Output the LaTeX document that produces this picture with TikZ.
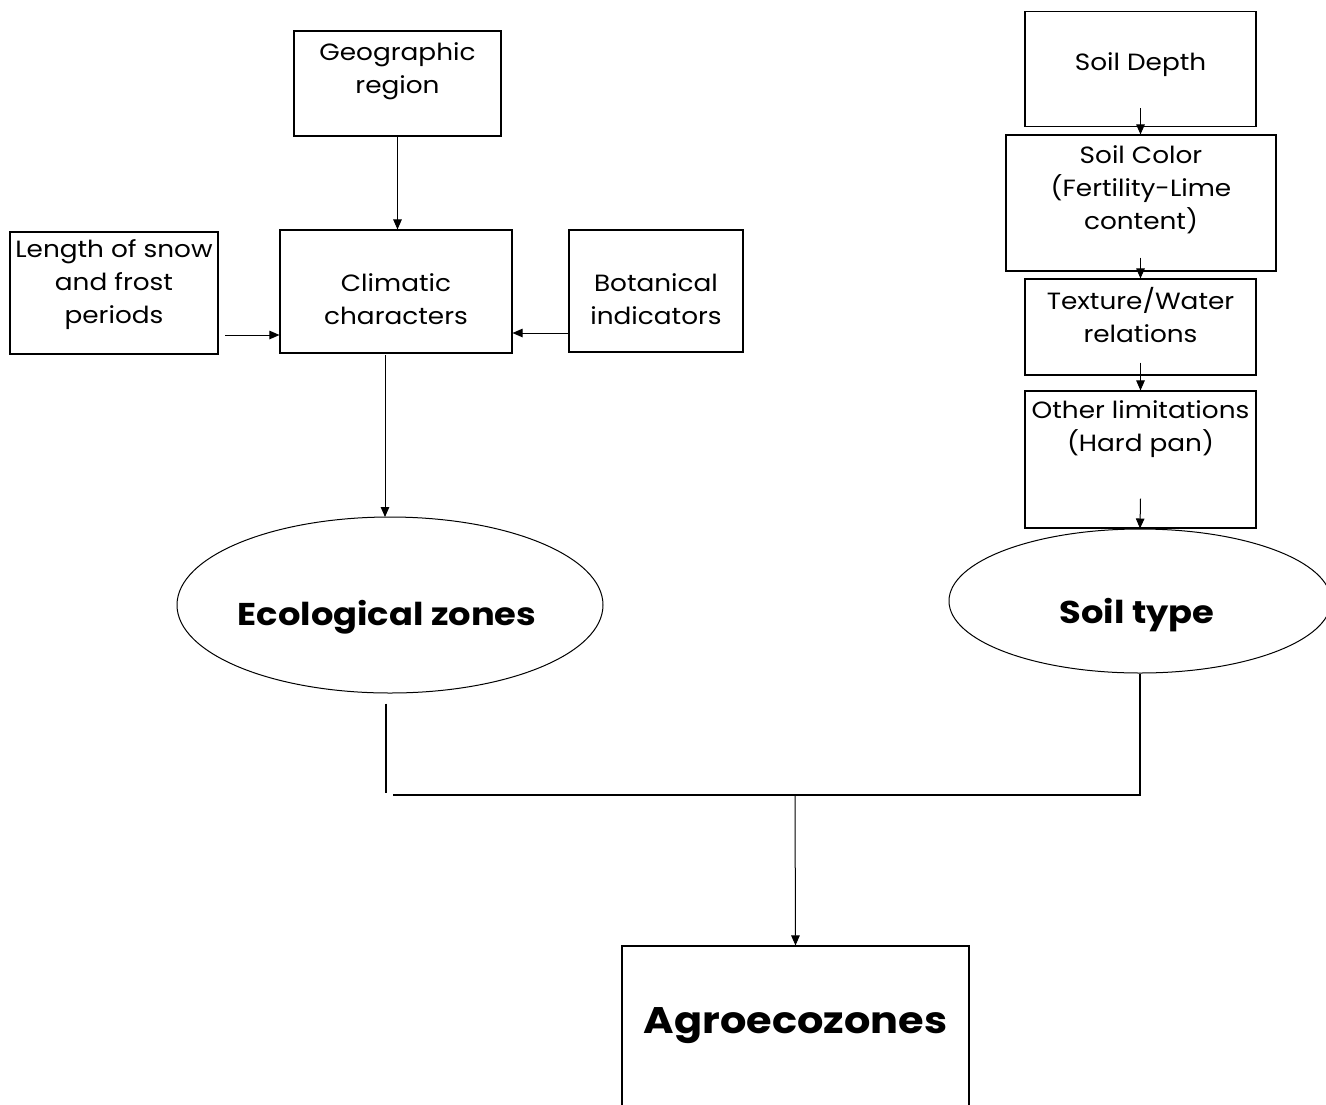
\documentclass[tikz,border=0pt]{standalone}
\usepackage{fontspec}
\setmainfont{Poppins}[FakeStretch=1.12]
\usetikzlibrary{arrows.meta,shapes.geometric}
\begin{document}
\begin{tikzpicture}[x=1pt,y=-1pt,
  box/.style={draw,line width=1.1pt,inner sep=0pt},
  txt/.style={align=center,inner sep=0pt,font=\fontsize{23.5}{33}\selectfont},
  big/.style={inner sep=0pt,font=\fontsize{31.5}{36}\selectfont\bfseries},
  oval/.style={draw,ellipse,line width=1pt,inner sep=0pt},
  arr/.style={line width=1pt,-{Triangle[length=10pt,width=8.5pt]}},
  ln/.style={line width=1.1pt}]
\useasboundingbox (0,0) rectangle (1326,1104);
% left part
\node[box,minimum width=207pt,minimum height=105pt] (geo) at (397.5,83.5) {};
\node[txt] (geot) at (397.5,71) {Geographic\\region};
\node[box,minimum width=232pt,minimum height=123pt] (clim) at (396,291.5) {};
\node[txt] (climt) at (396,299) {Climatic\\characters};
\node[box,minimum width=208pt,minimum height=122pt] (len) at (114,293) {};
\node[txt] (lent) at (114,285) {Length of snow\\and frost\\periods};
\node[box,minimum width=174pt,minimum height=122pt] (bot) at (656,291) {};
\node[txt] (bott) at (656,299) {Botanical\\indicators};
\node[oval,minimum width=426pt,minimum height=176pt] (eco) at (390,605) {};
\node[big] (ecot) at (387,617) {Ecological zones};
% right part
\node[box,minimum width=231pt,minimum height=115pt] (depth) at (1140.5,69) {};
\node[txt] (deptht) at (1140.5,65) {Soil Depth};
\node[box,minimum width=270pt,minimum height=136pt] (color) at (1141,203) {};
\node[txt] (colort) at (1141,190) {Soil Color\\(Fertility-Lime\\content)};
\node[box,minimum width=231pt,minimum height=96pt] (tex) at (1140.5,327) {};
\node[txt] (text) at (1140.5,315) {Texture/Water\\relations};
\node[box,minimum width=231pt,minimum height=137pt] (other) at (1140.5,459.5) {};
\node[txt] (othert) at (1140.5,429) {Other limitations\\(Hard pan)};
\node[oval,minimum width=382pt,minimum height=144pt] (soil) at (1140,601) {};
\node[big] (soilt) at (1137,615) {Soil type};
% bottom
\node[box,minimum width=347pt,minimum height=180pt] (agro) at (795.5,1036) {};
\node[inner sep=0pt,font=\fontsize{37}{42}\selectfont\bfseries] (agrot) at (795.5,1026) {Agroecozones};
% connectors
\draw[arr] (geo.south) -- (geo.south |- clim.north);
\coordinate (lenout) at (225,335);
\draw[arr] (lenout) -- (lenout -| clim.west);
\coordinate (botin) at (569,333);
\draw[arr] (botin) -- (botin -| clim.east);
\coordinate (climout) at (385,355);
\draw[arr] (climout) -- (385,517);
\draw[arr] ([yshift=19pt]depth.south) -- (depth.south |- color.north);
\draw[arr] ([yshift=14pt]color.south -| tex.south) -- (tex.north);
\draw[arr] ([yshift=13pt]tex.south) -- (other.north);
\draw[arr] ([yshift=30pt]other.south) -- (soil.north);
\coordinate (jl) at (386,793);
\coordinate (jr) at (1140,795);
\coordinate (jm) at (795,795);
\draw[ln] ([yshift=-10pt]eco.south -| jl) -- (jl);
\draw[ln] (soil.south) -- (jr) -- (393,795);
\draw[arr] (jm) -- (agro.north);
\end{tikzpicture}
\end{document}
